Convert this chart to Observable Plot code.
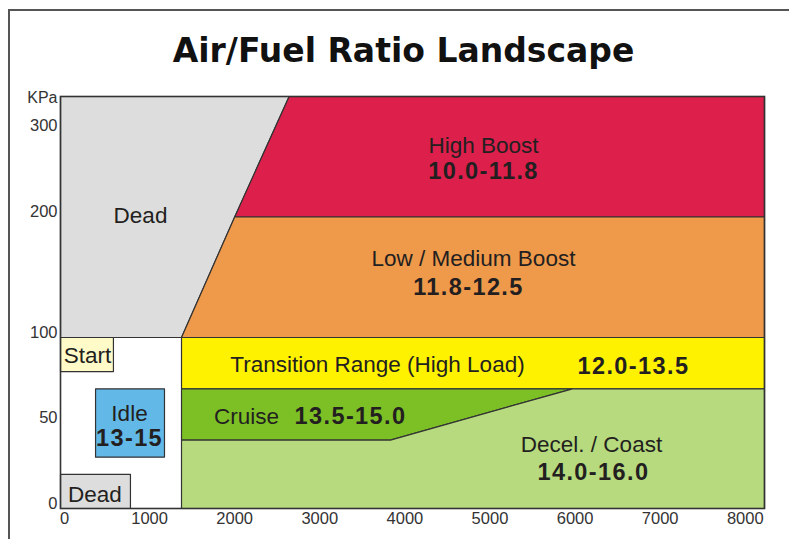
<!DOCTYPE html>
<html>
<head>
<meta charset="utf-8">
<script src="https://cdn.jsdelivr.net/npm/d3@7"></script>
<script src="https://cdn.jsdelivr.net/npm/@observablehq/plot@0.6"></script>
<style>
  body { margin: 0; background: #fff; }
  #wrap { position: relative; width: 789px; height: 539px; overflow: hidden; background: #fff; font-family: "Liberation Sans", Arial, sans-serif; }
  #frame { position: absolute; left: 8px; top: 9px; width: 820px; height: 600px; border-left: 2px solid #555; border-top: 2px solid #555; }
  #title { position: absolute; left: 0; top: 34px; width: 807px; text-align: center; font: bold 33px/33px "DejaVu Sans", sans-serif; color: #111; white-space: nowrap; }
  #chart { position: absolute; left: 0; top: 70px; }
  #chart g[aria-label$="tick label"] text { font-size: 16.5px; }
  #chart text[aria-label="ratio"] { letter-spacing: 1.4px; }
</style>
</head>
<body>
<div id="wrap">
  <div id="frame"></div>
  <div id="title">Air/Fuel Ratio Landscape</div>
  <div id="chart"></div>
</div>
<script>
// ---- Data ----
const xTicks = [0, 1000, 2000, 3000, 4000, 5000, 6000, 7000, 8000];   // RPM
const yTicks = [0, 50, 100, 200, 300];                                 // KPa
const rpmMin = -47, rpmMax = 8226;

const regionNames = ["Dead (upper)", "High Boost", "Low / Medium Boost", "Transition Range",
                     "Cruise", "Decel. / Coast", "Start", "Idle", "Dead (lower)"];
const regionRpm = [
  [rpmMin, 1375, 2000, 2640, rpmMin],
  [2000, 2640, rpmMax, rpmMax],
  [1375, 2000, rpmMax, rpmMax],
  [1375, 1375, rpmMax, rpmMax],
  [1375, 1375, 5970, 3830],
  [1375, 1375, 3830, 5970, rpmMax, rpmMax],
  [rpmMin, 575, 575, rpmMin],
  [365, 1175, 1175, 365],
  [rpmMin, 775, 775, rpmMin]
];
const regionKpa = [
  [100, 100, 200, 300, 300],
  [200, 300, 300, 200],
  [100, 200, 200, 100],
  [70, 100, 100, 70],
  [40, 70, 70, 40],
  [0, 40, 40, 70, 70, 0],
  [80, 80, 100, 100],
  [30, 30, 70, 70],
  [0, 0, 20, 20]
];

const nameLabels = ["High Boost", "Low / Medium Boost", "Dead", "Transition Range (High Load)",
                    "Cruise", "Decel. / Coast", "Start", "Idle", "Dead"];
const nameRpm = [4924, 4806, 893, 3678, 2139, 6193, 270, 764, 358];
const nameKpa = [259.5, 165.6, 201, 84.2, 53.8, 37.4, 89.5, 55.6, 8.2];

const ratioLabels = ["10.0-11.8", "11.8-12.5", "12.0-13.5", "13.5-15.0", "14.0-16.0", "13-15"];
const ratioRpm = [4924, 4747, 6686, 3361, 6216, 764];
const ratioKpa = [237.6, 141.5, 83.0, 53.8, 20.8, 41.0];

// ---- Styles ----
const regionColors = ["#dddddd", "#dc1f4b", "#ef994b", "#fff200", "#7dc026", "#b7da7e", "#fffbc9", "#62b9e8", "#dddddd"];
const textColor = "#231f20";
// the KPa axis is compressed above 100 KPa (piecewise scale)
const upperCompression = 0.7047;
const kpaTransform = v => v <= 100 ? v : 100 + (v - 100) * upperCompression;

// ---- Build ----
const regionMarks = regionNames.map((name, i) => {
  const pts = regionRpm[i].map((x, j) => ({region: name, x, y: regionKpa[i][j]}));
  pts.push(pts[0]);
  return Plot.line(pts, {x: "x", y: "y", fill: regionColors[i], stroke: "#333", strokeWidth: 1.2, strokeLinejoin: "miter"});
});

const names = nameLabels.map((t, i) => ({t, x: nameRpm[i], y: nameKpa[i]}));
const ratios = ratioLabels.map((t, i) => ({t, x: ratioRpm[i], y: ratioKpa[i]}));

const chart = Plot.plot({
  width: 789,
  height: 469,
  marginTop: 26,
  marginBottom: 31,
  marginLeft: 60,
  marginRight: 25,
  style: {fontFamily: "'Liberation Sans', Arial, sans-serif", fontSize: "16px", background: "transparent", color: "#333"},
  x: {domain: [rpmMin, rpmMax], label: null},
  y: {transform: kpaTransform, nice: false, label: null},
  marks: [
    ...regionMarks,
    Plot.frame({stroke: "#333", strokeWidth: 1.6}),
    Plot.axisX(xTicks, {tickSize: 0, tickPadding: 4, fontSize: 16.5, fill: "#333", tickFormat: d => String(d), label: null}),
    Plot.axisY(yTicks.slice(0, 4), {tickSize: 0, tickPadding: 3, fontSize: 16.5, fill: "#333", dy: -5, tickFormat: d => String(d), label: null}),
    Plot.axisY(yTicks.slice(4), {tickSize: 0, tickPadding: 3, fontSize: 16.5, fill: "#333", dy: 29, tickFormat: d => String(d), label: null}),
    Plot.text(["KPa"], {frameAnchor: "top-left", text: d => d, textAnchor: "end", dx: -3, dy: -5, fontSize: 16, fill: "#333"}),
    Plot.text(names, {x: "x", y: "y", text: "t", fontSize: 22.5, fill: textColor}),
    Plot.text(ratios, {x: "x", y: "y", text: "t", fontSize: 23.5, fontWeight: "bold", fill: textColor, ariaLabel: () => "ratio"})
  ]
});
document.getElementById("chart").appendChild(chart);
</script>
</body>
</html>
